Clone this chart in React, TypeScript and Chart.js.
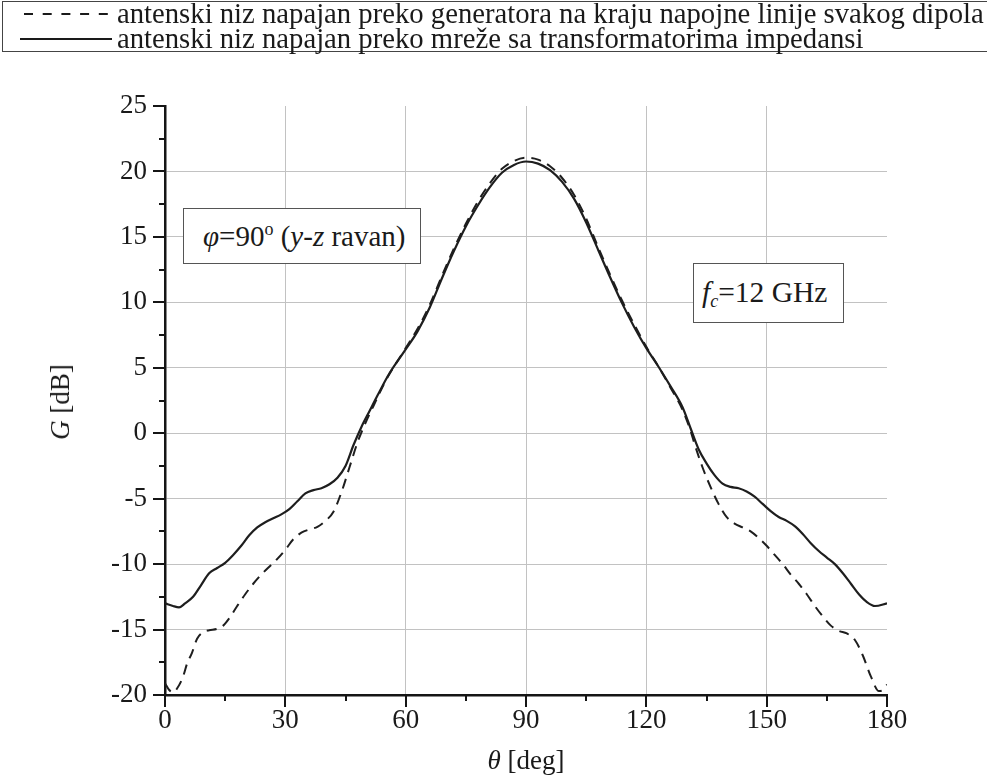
import React, { useEffect, useRef } from "react";
import { Chart, registerables } from "chart.js";

Chart.register(...registerables);

// θ [deg] and G [dB] for the dashed curve (generator at end of each dipole feed line)
const thetaDashed = [0, 1, 2, 3, 4.5, 5.5, 6.7, 8, 9.5, 11, 13, 14.5, 16, 18, 20, 22, 24, 26, 28, 30, 32, 34, 36, 38, 40, 42, 44, 46, 48, 50, 52, 55, 60, 63, 66, 69, 72, 75, 78, 81, 84, 87, 90, 93, 96, 99, 102, 105, 108, 111, 114, 117, 120, 123, 126, 129, 131, 132, 134, 136, 138, 140, 142, 144, 146, 148, 150, 152, 154, 156, 158, 160, 162, 164, 166, 168, 170, 172, 174, 176, 178, 179, 180];
const gainDashed = [-19.1, -19.6, -19.8, -19.5, -18.6, -17.6, -16.8, -15.7, -15.2, -15.05, -14.95, -14.7, -14.15, -13.2, -12.3, -11.5, -10.8, -10.2, -9.6, -8.9, -8.1, -7.6, -7.35, -7.15, -6.7, -6.0, -4.5, -2.6, -0.7, 0.8, 2.1, 4.0, 6.5, 8.0, 9.8, 12.0, 14.1, 16.0, 17.7, 19.1, 20.2, 20.8, 21.05, 20.9, 20.4, 19.5, 18.2, 16.4, 14.2, 12.1, 10.1, 8.3, 6.6, 5.1, 3.5, 1.8, 0.2, -0.8, -2.6, -4.1, -5.4, -6.4, -6.9, -7.2, -7.5, -8.0, -8.6, -9.3, -10.0, -10.8, -11.5, -12.3, -13.2, -14.0, -14.7, -15.1, -15.3, -15.8, -17.0, -18.6, -19.7, -19.6, -19.2];

// θ [deg] and G [dB] for the solid curve (network with impedance transformers)
const thetaSolid = [0, 2, 3.5, 5, 7, 9, 11, 13, 15, 17, 19, 21, 23, 25, 27, 29, 31, 33, 35, 37, 39, 41, 43, 45, 47, 49, 51, 53, 56, 60, 63, 66, 69, 72, 75, 78, 81, 84, 87, 90, 93, 96, 99, 102, 105, 108, 111, 114, 117, 120, 123, 126, 129, 131, 133, 135, 137, 139, 141, 143, 145, 147, 149, 151, 153, 155, 157, 159, 161, 163, 165, 167, 169, 171, 173, 175, 177, 180];
const gainSolid = [-13.0, -13.2, -13.3, -13.0, -12.5, -11.6, -10.7, -10.3, -9.9, -9.3, -8.6, -7.8, -7.2, -6.8, -6.5, -6.2, -5.8, -5.2, -4.6, -4.35, -4.2, -3.9, -3.4, -2.5, -0.9, 0.5, 1.7, 2.9, 4.6, 6.4, 7.8, 9.6, 11.8, 13.9, 15.8, 17.4, 18.8, 19.9, 20.5, 20.76, 20.6, 20.1, 19.2, 17.9, 16.1, 14.0, 11.9, 9.9, 8.1, 6.5, 5.1, 3.6, 2.0, 0.4, -1.2, -2.3, -3.2, -3.85, -4.1, -4.2, -4.45, -4.85, -5.4, -5.95, -6.4, -6.7, -7.1, -7.7, -8.4, -9.0, -9.5, -10.0, -10.7, -11.5, -12.3, -12.9, -13.2, -13.0];

const xTickValues = [0, 30, 60, 90, 120, 150, 180];
const xMinorValues = [15, 45, 75, 105, 135, 165];
const yTickValues = [-20, -15, -10, -5, 0, 5, 10, 15, 20, 25];
const yMinorValues = [-17.5, -12.5, -7.5, -2.5, 2.5, 7.5, 12.5, 17.5, 22.5];

const legendLabels = [
  "antenski niz napajan preko generatora na kraju napojne linije svakog dipola",
  "antenski niz napajan preko mreže sa transformatorima impedansi",
];

const SERIF = "'Liberation Serif', 'Times New Roman', serif";

const tickMarksPlugin = {
  id: "tickMarks",
  afterDraw(chart: any) {
    const { ctx, chartArea, scales } = chart;
    const xs = scales.x;
    const ys = scales.y;
    ctx.save();
    ctx.strokeStyle = "#151515";
    ctx.lineWidth = 2;
    const drawX = (v: number, len: number) => {
      const px = Math.round(xs.getPixelForValue(v));
      ctx.beginPath();
      ctx.moveTo(px, chartArea.bottom);
      ctx.lineTo(px, chartArea.bottom + len);
      ctx.stroke();
    };
    const drawY = (v: number, len: number) => {
      const py = Math.round(ys.getPixelForValue(v));
      ctx.beginPath();
      ctx.moveTo(chartArea.left, py);
      ctx.lineTo(chartArea.left - len, py);
      ctx.stroke();
    };
    xTickValues.forEach((v) => drawX(v, 12));
    xMinorValues.forEach((v) => drawX(v, 6));
    yTickValues.forEach((v) => drawY(v, 12));
    yMinorValues.forEach((v) => drawY(v, 6));
    ctx.restore();
  },
};

export default function App() {
  const canvasRef = useRef<HTMLCanvasElement>(null);

  useEffect(() => {
    const canvas = canvasRef.current;
    if (!canvas) return;
    let chart: any = null;
    let cancelled = false;
    const build = () => {
      if (cancelled) return;
      chart = new Chart(canvas, {
        type: "line",
        data: {
          datasets: [
            {
              label: legendLabels[0],
              data: thetaDashed.map((t, i) => ({ x: t, y: gainDashed[i] })),
              borderColor: "#1e1e1e",
              borderWidth: 2,
              borderDash: [10, 7],
              pointRadius: 0,
              cubicInterpolationMode: "monotone",
              fill: false,
            },
            {
              label: legendLabels[1],
              data: thetaSolid.map((t, i) => ({ x: t, y: gainSolid[i] })),
              borderColor: "#1e1e1e",
              borderWidth: 2.2,
              pointRadius: 0,
              cubicInterpolationMode: "monotone",
              fill: false,
            },
          ],
        },
        options: {
          animation: false,
          responsive: false,
          devicePixelRatio: 1,
          layout: { padding: { top: 106, right: 100, left: 0, bottom: 0 } },
          plugins: {
            legend: { display: false },
            tooltip: { enabled: false },
            title: { display: false },
          },
          scales: {
            x: {
              type: "linear",
              min: 0,
              max: 180,
              afterBuildTicks: (s: any) => {
                s.ticks = xTickValues.map((v) => ({ value: v }));
              },
              afterFit: (s: any) => {
                s.height = 83;
              },
              grid: {
                color: (c: any) =>
                  c.tick && (c.tick.value === 0 || c.tick.value === 180) ? "rgba(0,0,0,0)" : "#c2c2c2",
                lineWidth: 1,
                drawTicks: false,
              },
              border: { display: true, color: "#151515", width: 2.5 },
              ticks: {
                color: "#1a1a1a",
                font: { family: SERIF, size: 27 },
                padding: 10,
                maxRotation: 0,
                autoSkip: false,
              },
            },
            y: {
              type: "linear",
              min: -20,
              max: 25,
              afterBuildTicks: (s: any) => {
                s.ticks = yTickValues.map((v) => ({ value: v }));
              },
              afterFit: (s: any) => {
                s.width = 165;
              },
              grid: {
                color: (c: any) =>
                  c.tick && (c.tick.value === 25 || c.tick.value === -20) ? "rgba(0,0,0,0)" : "#c2c2c2",
                lineWidth: 1,
                drawTicks: false,
              },
              border: { display: true, color: "#151515", width: 2.5 },
              ticks: {
                color: "#1a1a1a",
                font: { family: SERIF, size: 27 },
                padding: 18,
                autoSkip: false,
              },
            },
          },
        },
        plugins: [tickMarksPlugin],
      } as any);
    };
    const fontsApi: any = (document as any).fonts;
    if (fontsApi && fontsApi.load) {
      Promise.all([
        fontsApi.load("27px 'Liberation Serif'"),
        fontsApi.load("italic 27px 'Liberation Serif'"),
      ])
        .catch(() => undefined)
        .then(build);
    } else {
      build();
    }
    return () => {
      cancelled = true;
      if (chart) chart.destroy();
    };
  }, []);

  const textStyle: React.CSSProperties = {
    position: "absolute",
    fontFamily: SERIF,
    fontSize: 28.7,
    lineHeight: "28px",
    color: "#1a1a1a",
    whiteSpace: "nowrap",
  };

  return (
    <div
      style={{
        position: "fixed",
        left: 0,
        top: 0,
        width: 987,
        height: 778,
        background: "#ffffff",
        overflow: "hidden",
      }}
    >
      <canvas ref={canvasRef} width={987} height={778} style={{ position: "absolute", left: 0, top: 0 }} />

      {/* legend box */}
      <div
        style={{
          position: "absolute",
          left: 2,
          top: 1,
          width: 1100,
          height: 51,
          border: "1.5px solid #444",
          boxSizing: "border-box",
        }}
      />
      <svg width={120} height={60} style={{ position: "absolute", left: 0, top: 0 }}>
        <line x1={24} y1={14} x2={112} y2={14} stroke="#1a1a1a" strokeWidth={2} strokeDasharray="9 9.7" />
        <line x1={20} y1={39} x2={112} y2={39} stroke="#1a1a1a" strokeWidth={2} />
      </svg>
      <div style={{ ...textStyle, left: 117, top: -1 }}>{legendLabels[0]}</div>
      <div style={{ ...textStyle, left: 117, top: 24 }}>{legendLabels[1]}</div>

      {/* annotation: phi */}
      <div
        style={{
          position: "absolute",
          left: 183,
          top: 208,
          width: 238,
          height: 56,
          border: "1.5px solid #555",
          boxSizing: "border-box",
          background: "#fff",
        }}
      />
      <div style={{ ...textStyle, fontSize: 29, left: 203, top: 222 }}>
        <i>φ</i>=90<sup style={{ fontSize: 18, verticalAlign: "top", lineHeight: "14px" }}>o</sup> (<i>y</i>-<i>z</i> ravan)
      </div>

      {/* annotation: fc */}
      <div
        style={{
          position: "absolute",
          left: 693,
          top: 263,
          width: 151,
          height: 60,
          border: "1.5px solid #555",
          boxSizing: "border-box",
          background: "#fff",
        }}
      />
      <div style={{ ...textStyle, fontSize: 29.5, left: 702, top: 278 }}>
        <i>f</i>
        <sub style={{ fontSize: 18, verticalAlign: "bottom", position: "relative", top: 9 }}>
          <i>c</i>
        </sub>
        =12 GHz
      </div>

      {/* axis titles */}
      <div
        style={{
          ...textStyle,
          fontSize: 27,
          left: 60,
          top: 402,
          transform: "translate(-50%, -50%) rotate(-90deg)",
        }}
      >
        <i>G</i> [dB]
      </div>
      <div style={{ ...textStyle, fontSize: 27, left: 526, top: 760, transform: "translate(-50%, -50%)" }}>
        <i>θ</i> [deg]
      </div>
    </div>
  );
}
